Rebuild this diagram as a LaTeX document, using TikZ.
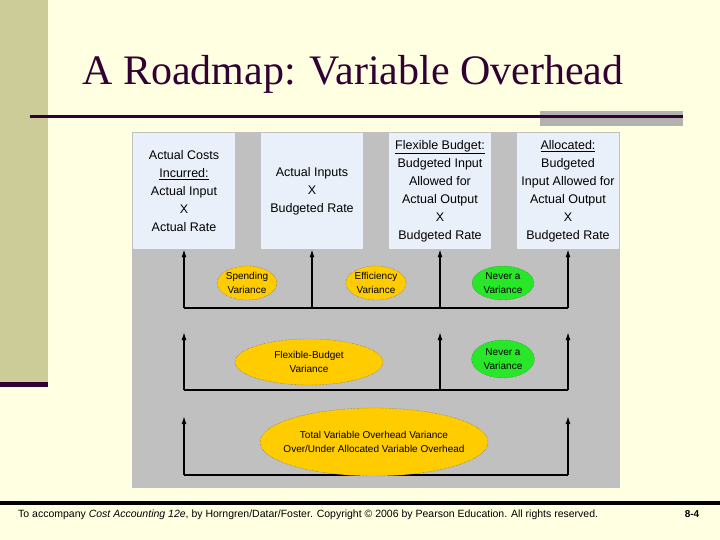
\documentclass[tikz,border=0pt]{standalone}
\usepackage{fontspec}
\setmainfont{Liberation Sans}
\newfontfamily\titlefont{Liberation Serif}
\usetikzlibrary{shapes.geometric,positioning,arrows.meta}
\definecolor{slidebg}{RGB}{255,255,225}
\definecolor{khaki}{RGB}{204,204,153}
\definecolor{plum}{RGB}{51,0,51}
\definecolor{panelgray}{RGB}{192,192,192}
\definecolor{bargray}{RGB}{178,178,175}
\definecolor{boxblue}{RGB}{234,240,250}
\definecolor{gold}{RGB}{255,204,0}
\definecolor{brightgreen}{RGB}{40,230,40}
\tikzset{
  costbox/.style={fill=boxblue, minimum width=102pt, minimum height=116pt,
    inner sep=0pt, align=center, font=\fontsize{12.5}{18}\selectfont},
  variance/.style={ellipse, draw=black!65, densely dotted, fill=gold,
    inner sep=0pt, align=center, font=\fontsize{10}{14}\selectfont},
  never/.style={variance, fill=brightgreen},
  link/.style={line width=1.4pt},
  up/.style={link, -{Latex[length=8pt,width=5pt]}},
}
\begin{document}
\begin{tikzpicture}[x=1pt,y=-1pt]
  % slide background
  \fill[slidebg] (0,0) rectangle (720,540);
  \useasboundingbox (0,0) rectangle (720,540);
  \fill[khaki] (0,0) rectangle (48,382);
  \fill[plum] (0,382) rectangle (48,387);
  % title
  \node[anchor=base west, inner sep=0pt, text=plum,
    font=\titlefont\fontsize{42}{44}\selectfont] (title) at (82,85)
    {A Roadmap: Variable Overhead};
  \fill[bargray] (540,111) rectangle (683,126);
  \fill[plum] (30,115.5) rectangle (683,118.5);
  % panel
  \fill[panelgray] (132,132) rectangle (620,488);
  % cost boxes
  \node[costbox] (actual) at (184,191)
    {Actual Costs\\\underline{Incurred:}\\Actual Input\\X\\Actual Rate};
  \node[costbox] (inputs) at (312,191)
    {Actual Inputs\\X\\Budgeted Rate};
  \node[costbox] (flexible) at (440,191)
    {\underline{Flexible Budget:}\\Budgeted Input\\Allowed for\\Actual Output\\X\\Budgeted Rate};
  \node[costbox] (allocated) at (568,191)
    {\underline{Allocated:}\\Budgeted\\Input Allowed for\\Actual Output\\X\\Budgeted Rate};
  % rows of the roadmap
  \coordinate (row1) at (0,308);
  \coordinate (row2) at (0,390);
  \coordinate (tip2) at (0,332);
  \coordinate (row3) at (0,475);
  \coordinate (tip3) at (0,416);
  % first row: to the boxes
  \draw[link] (actual.south |- row1) -- (allocated.south |- row1);
  \foreach \b in {actual,inputs,flexible,allocated}
    \draw[up] (\b.south |- row1) -- (\b.south);
  % second row
  \draw[link] (actual.south |- row2) -- (allocated.south |- row2);
  \foreach \b in {actual,flexible,allocated}
    \draw[up] (\b.south |- row2) -- (\b.south |- tip2);
  % third row
  \draw[link] (actual.south |- row3) -- (allocated.south |- row3);
  \foreach \b in {actual,allocated}
    \draw[up] (\b.south |- row3) -- (\b.south |- tip3);
  % variances
  \node[variance, minimum width=58pt, minimum height=34pt] (spending) at (247,283)
    {Spending\\Variance};
  \node[variance, minimum width=59pt, minimum height=34pt] (efficiency) at (376,283)
    {Efficiency\\Variance};
  \node[never, minimum width=62pt, minimum height=34pt] (never1) at (503,283)
    {Never a\\Variance};
  \node[variance, minimum width=148pt, minimum height=46pt] (flexvar) at (309,362)
    {Flexible-Budget\\Variance};
  \node[never, minimum width=63pt, minimum height=38pt] (never2) at (503,359)
    {Never a\\Variance};
  \node[variance, inner xsep=-14pt, minimum width=228pt, minimum height=68pt] (total) at (374,442)
    {Total Variable Overhead Variance\\Over/Under Allocated Variable Overhead};
  % footer
  \fill[black] (0,501) rectangle (720,505);
  \node[anchor=base west, inner sep=0pt, font=\fontsize{10.5}{12}\selectfont] (credit) at (18,517)
    {To accompany \textit{Cost Accounting 12e}, by Horngren/Datar/Foster. Copyright \textcopyright{} 2006 by Pearson Education. All rights reserved.};
  \node[anchor=base, inner sep=0pt, font=\bfseries\fontsize{10}{12}\selectfont] (page) at (692,517) {8-4};
\end{tikzpicture}
\end{document}
